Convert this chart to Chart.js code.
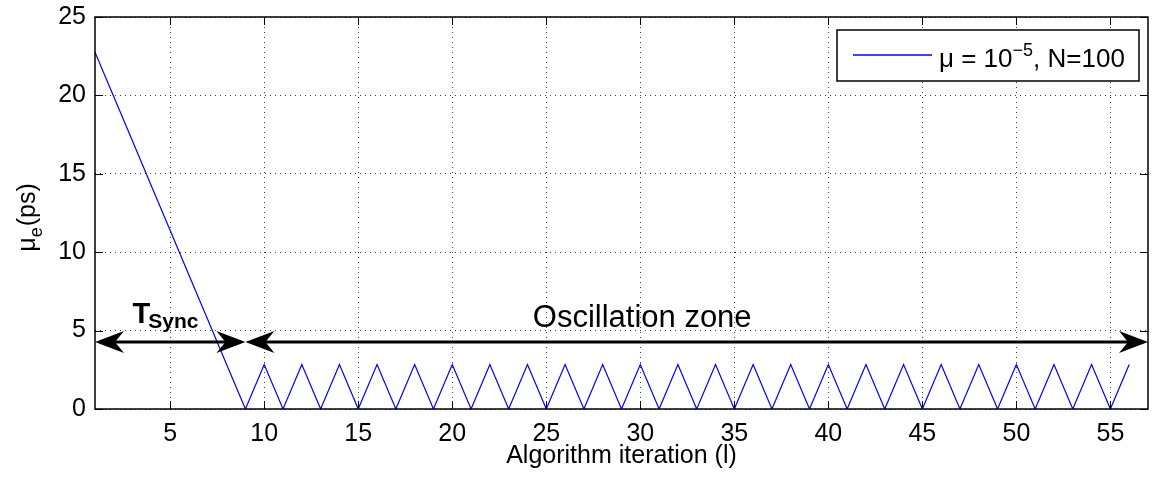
<!DOCTYPE html>
<html>
<head>
<meta charset="utf-8">
<script src="https://cdn.jsdelivr.net/npm/chart.js@4/dist/chart.umd.min.js"></script>
<style>
html,body{margin:0;padding:0;background:#fff;}
#wrap{width:1154px;height:482px;position:relative;}
</style>
</head>
<body>
<div id="wrap"><canvas id="c" width="1154" height="482"></canvas></div>
<script>
// ---- data ----
const iterations = [1,2,3,4,5,6,7,8,9,10,11,12,13,14,15,16,17,18,19,20,21,22,23,24,25,26,27,28,29,30,31,32,33,34,35,36,37,38,39,40,41,42,43,44,45,46,47,48,49,50,51,52,53,54,55,56];
const muE = [22.76,19.91,17.07,14.22,11.38,8.53,5.69,2.84,0,
  2.84,0,2.84,0,2.84,0,2.84,0,2.84,0,2.84,0,2.84,0,2.84,0,2.84,0,2.84,0,2.84,0,2.84,0,
  2.84,0,2.84,0,2.84,0,2.84,0,2.84,0,2.84,0,2.84,0,2.84,0,2.84,0,2.84,0,2.84,0,2.84];
const xTicks = [5,10,15,20,25,30,35,40,45,50,55];
const yTicks = [0,5,10,15,20,25];
const xRange = [1,57];
const yRange = [0,25];
const seriesLabel = 'μ = 10^−5, N=100';
const xTitle = 'Algorithm iteration (l)';
// annotations (data space)
const syncArrow = {from:1, to:9, y:4.27};
const oscArrow = {from:9, to:57, y:4.27};
const syncLabel = {x:4.75, y:5.2};
const oscLabel = {x:30.1, y:5.2};

const FONT = "'Liberation Sans', Arial, Helvetica, sans-serif";

function arrowHead(ctx, tipX, y, dir) {
  const L = 29, W = 11, N = 20;
  ctx.beginPath();
  ctx.moveTo(tipX, y);
  ctx.lineTo(tipX - dir*L, y - W);
  ctx.lineTo(tipX - dir*N, y);
  ctx.lineTo(tipX - dir*L, y + W);
  ctx.closePath();
  ctx.fill();
}
function doubleArrow(ctx, x1, x2, y) {
  ctx.save();
  ctx.strokeStyle = '#000'; ctx.fillStyle = '#000'; ctx.lineWidth = 3;
  ctx.beginPath(); ctx.moveTo(x1 + 10, y); ctx.lineTo(x2 - 10, y); ctx.stroke();
  arrowHead(ctx, x1, y, -1);
  arrowHead(ctx, x2, y, 1);
  ctx.restore();
}

const decor = {
  id: 'decor',
  afterDraw(chart) {
    const ctx = chart.ctx, a = chart.chartArea;
    const xs = chart.scales.x, ys = chart.scales.y;
    ctx.save();
    // inward ticks on all four sides
    ctx.strokeStyle = '#000'; ctx.lineWidth = 1;
    const tl = 8;
    ctx.beginPath();
    xTicks.forEach(v => {
      const px = Math.round(xs.getPixelForValue(v)) + 0.5;
      ctx.moveTo(px, a.bottom); ctx.lineTo(px, a.bottom - tl);
      ctx.moveTo(px, a.top); ctx.lineTo(px, a.top + tl);
    });
    yTicks.forEach(v => {
      const py = Math.round(ys.getPixelForValue(v)) + 0.5;
      ctx.moveTo(a.left, py); ctx.lineTo(a.left + tl, py);
      ctx.moveTo(a.right, py); ctx.lineTo(a.right - tl, py);
    });
    ctx.stroke();
    // frame
    ctx.lineWidth = 1.5;
    ctx.strokeRect(a.left, a.top, a.right - a.left, a.bottom - a.top);

    // arrows
    doubleArrow(ctx, xs.getPixelForValue(syncArrow.from), xs.getPixelForValue(syncArrow.to), ys.getPixelForValue(syncArrow.y));
    doubleArrow(ctx, xs.getPixelForValue(oscArrow.from), xs.getPixelForValue(oscArrow.to), ys.getPixelForValue(oscArrow.y));

    // T_Sync label
    ctx.fillStyle = '#000';
    ctx.textBaseline = 'alphabetic';
    ctx.textAlign = 'left';
    let sx = xs.getPixelForValue(syncLabel.x), sy = ys.getPixelForValue(syncLabel.y);
    ctx.font = 'bold 29px ' + FONT;
    const tw = ctx.measureText('T').width;
    ctx.font = 'bold 21px ' + FONT;
    const sw = ctx.measureText('Sync').width;
    const x0 = sx - (tw + sw - 2) / 2;
    ctx.font = 'bold 29px ' + FONT;
    ctx.fillText('T', x0, sy - 4);
    ctx.font = 'bold 21px ' + FONT;
    ctx.fillText('Sync', x0 + tw - 2, sy + 1);

    // Oscillation zone
    ctx.font = '31px ' + FONT;
    ctx.textAlign = 'center';
    ctx.fillText('Oscillation zone', xs.getPixelForValue(oscLabel.x), sy);

    // y-axis title with subscript, rotated
    ctx.save();
    ctx.translate(35, (a.top + a.bottom) / 2 + 5);
    ctx.rotate(-Math.PI / 2);
    ctx.textAlign = 'left';
    ctx.font = '25px ' + FONT;
    const w1 = ctx.measureText('μ').width;
    ctx.font = '18px ' + FONT;
    const w2 = ctx.measureText('e').width;
    ctx.font = '25px ' + FONT;
    const w3 = ctx.measureText('(ps)').width;
    let yx = -(w1 + w2 + w3) / 2;
    ctx.fillText('μ', yx, 0);
    ctx.font = '18px ' + FONT;
    ctx.fillText('e', yx + w1, 7);
    ctx.font = '25px ' + FONT;
    ctx.fillText('(ps)', yx + w1 + w2 + 1, 0);
    ctx.restore();

    // legend box
    const ds = chart.data.datasets[0];
    const bx = 837, by = 30, bw = 302, bh = 51;
    ctx.fillStyle = '#fff';
    ctx.fillRect(bx, by, bw, bh);
    ctx.strokeStyle = '#000'; ctx.lineWidth = 1.5;
    ctx.strokeRect(bx, by, bw, bh);
    ctx.strokeStyle = '#0000ff'; ctx.lineWidth = 1.5;
    ctx.beginPath(); ctx.moveTo(853, 55); ctx.lineTo(932, 55); ctx.stroke();
    ctx.fillStyle = '#000';
    ctx.textAlign = 'left';
    const parts = ds.label.split('^');
    const sup = parts[1].split(',')[0];
    const rest = parts[1].slice(sup.length);
    let lx = 939, ly = 67;
    ctx.font = '26px ' + FONT;
    ctx.fillText(parts[0], lx, ly); lx += ctx.measureText(parts[0]).width;
    ctx.font = '18px ' + FONT;
    ctx.fillText(sup, lx, ly - 11); lx += ctx.measureText(sup).width;
    ctx.font = '26px ' + FONT;
    ctx.fillText(rest, lx, ly);
    ctx.restore();
  }
};

new Chart(document.getElementById('c'), {
  type: 'line',
  data: {
    datasets: [{
      label: seriesLabel,
      data: iterations.map((x, i) => ({x: x, y: muE[i]})),
      borderColor: '#0000ff',
      borderWidth: 1.2,
      pointRadius: 0,
      tension: 0,
      fill: false
    }]
  },
  options: {
    responsive: false,
    animation: false,
    layout: {padding: {top: 17, right: 6, left: 0, bottom: 0}},
    plugins: {legend: {display: false}, tooltip: {enabled: false}},
    scales: {
      x: {
        type: 'linear', min: xRange[0], max: xRange[1],
        afterBuildTicks: s => { s.ticks = xTicks.map(v => ({value: v})); },
        afterFit: s => { s.height = 73; s.paddingLeft = 0; s.paddingRight = 0; },
        grid: {color: 'rgba(0,0,0,0.75)', drawTicks: false, lineWidth: 1},
        border: {display: false, dash: [1, 4]},
        ticks: {font: {family: FONT, size: 25}, color: '#000', padding: 10, maxRotation: 0},
        title: {display: true, text: xTitle, font: {family: FONT, size: 25}, color: '#000', padding: {top: 0, bottom: 11}}
      },
      y: {
        min: yRange[0], max: yRange[1],
        afterBuildTicks: s => { s.ticks = yTicks.map(v => ({value: v})); },
        afterFit: s => { s.width = 95; s.paddingTop = 0; s.paddingBottom = 0; },
        grid: {color: 'rgba(0,0,0,0.75)', drawTicks: false, lineWidth: 1},
        border: {display: false, dash: [1, 4]},
        ticks: {font: {family: FONT, size: 25}, color: '#000', padding: 9}
      }
    }
  },
  plugins: [decor]
});
</script>
</body>
</html>
